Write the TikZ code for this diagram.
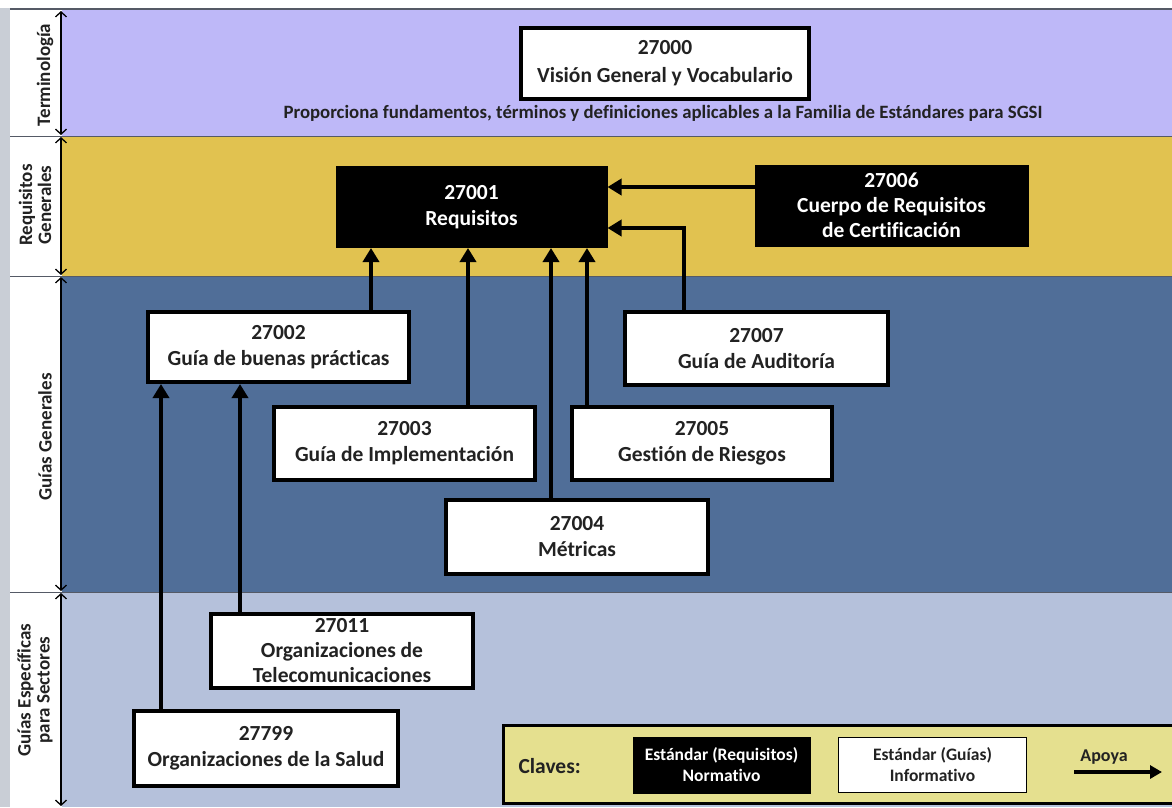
\documentclass[tikz,border=0pt]{standalone}
\usepackage{fontspec}
\setmainfont{Carlito}[Ligatures=NoCommon]
\usetikzlibrary{arrows.meta}
\definecolor{bandA}{HTML}{BEB8F8}
\definecolor{bandB}{HTML}{E1C250}
\definecolor{bandC}{HTML}{506E98}
\definecolor{bandD}{HTML}{B5C1DB}
\definecolor{keyfill}{HTML}{E5E08F}
\definecolor{stripgray}{HTML}{C9CED6}
\definecolor{txt}{HTML}{222222}
\definecolor{sepline}{HTML}{555A66}
\begin{document}
\begin{tikzpicture}[x=1pt,y=-1pt,
  guide/.style={draw=black, line width=4pt, fill=white, text=txt, align=center, inner sep=0pt,
    font=\bfseries\fontsize{21.5}{26}\selectfont},
  norm/.style={draw=black, line width=1pt, fill=black, text=white, align=center, inner sep=0pt,
    font=\bfseries\fontsize{21.5}{26}\selectfont},
  apoya/.style={line width=4pt, -{Triangle[length=14pt,width=16pt]}},
  bandlbl/.style={rotate=90, text=txt, align=center, font=\bfseries\fontsize{19}{19}\selectfont},
  bandarrow/.style={line width=1.3pt, {Straight Barb[length=5pt,width=11pt]}-{Straight Barb[length=5pt,width=11pt]}},
  keytxt/.style={text=txt, align=center, font=\bfseries\fontsize{17.5}{21}\selectfont}]
\useasboundingbox (0,0) rectangle (1172,807);
\fill[white] (0,0) rectangle (1172,807);
\fill[stripgray] (0,8) rectangle (10,807);
% bands
\fill[bandA] (62,10) rectangle (1172,136);
\fill[bandB] (62,136) rectangle (1172,276);
\fill[bandC] (62,276) rectangle (1172,592);
\fill[bandD] (62,592) rectangle (1172,807);
\draw[sepline, line width=1.2pt] (10,9) -- (1172,9);
\foreach \yy in {136,276,592} \draw[sepline, line width=1pt] (10,\yy) -- (1172,\yy);
% band label arrows
\coordinate (a1) at (61,11); \coordinate (a2) at (61,135);
\coordinate (b1) at (61,137); \coordinate (b2) at (61,275);
\coordinate (c1) at (61,277); \coordinate (c2) at (61,591);
\coordinate (d1) at (61,593); \coordinate (d2) at (61,806);
\draw[bandarrow] (a1) -- (a2);
\draw[bandarrow] (b1) -- (b2);
\draw[bandarrow] (c1) -- (c2);
\draw[bandarrow] (d1) -- (d2);
% band labels
\node[bandlbl] (lTerm) at (45,75) {Terminología};
\node[bandlbl] (lReq) at (35,205) {Requisitos\\Generales};
\node[bandlbl] (lGG) at (45,437) {Guías Generales};
\node[bandlbl] (lGE) at (35,690) {Guías Específicas\\para Sectores};
% top
\node[guide, minimum width=288pt, minimum height=71pt, font=\bfseries\fontsize{21.5}{28}\selectfont] (n27000) at (665,63.5) {27000\\Visión General y Vocabulario};
\node[text=txt, font=\bfseries\fontsize{18.8}{20}\selectfont] (cap) at (663,113) {Proporciona fundamentos, términos y definiciones aplicables a la Familia de Estándares para SGSI};
% requisitos
\node[norm, minimum width=271pt, minimum height=81pt] (n27001) at (471.5,207) {27001\\Requisitos};
\node[norm, minimum width=273pt, minimum height=81pt, font=\bfseries\fontsize{21.5}{25}\selectfont] (n27006) at (891.5,205.5) {27006\\Cuerpo de Requisitos\\de Certificación};
% guias generales
\node[guide, minimum width=261pt, minimum height=70pt] (n27002) at (278.5,347) {27002\\Guía de buenas prácticas};
\node[guide, minimum width=263pt, minimum height=73pt] (n27007) at (756.5,348.5) {27007\\Guía de Auditoría};
\node[guide, minimum width=261pt, minimum height=73pt] (n27003) at (404.5,443.5) {27003\\Guía de Implementación};
\node[guide, minimum width=260pt, minimum height=73pt] (n27005) at (702,443.5) {27005\\Gestión de Riesgos};
\node[guide, minimum width=262pt, minimum height=74pt] (n27004) at (577,537) {27004\\Métricas};
% guias especificas
\node[guide, minimum width=262pt, minimum height=74pt, font=\bfseries\fontsize{21.5}{25}\selectfont] (n27011) at (342,651) {27011\\Organizaciones de\\Telecomunicaciones};
\node[guide, minimum width=264pt, minimum height=75pt] (n27799) at (266,748.5) {27799\\Organizaciones de la Salud};
% connector helpers
\coordinate (x371) at (371,0);
\coordinate (x468) at (468,0);
\coordinate (x551) at (551,0);
\coordinate (x587) at (587,0);
\coordinate (x684) at (684,0);
\coordinate (x240) at (240,0);
\coordinate (x161) at (161,0);
\coordinate (y187) at (0,187);
\coordinate (y228) at (0,228);
% connectors
\draw[apoya] (n27006.west |- y187) -- (n27001.east |- y187);
\draw[apoya] (n27007.north -| x684) |- (n27001.east |- y228);
\draw[apoya] (n27002.north -| x371) -- (x371 |- n27001.south);
\draw[apoya] (n27003.north -| x468) -- (x468 |- n27001.south);
\draw[apoya] (n27004.north -| x551) -- (x551 |- n27001.south);
\draw[apoya] (n27005.north -| x587) -- (x587 |- n27001.south);
\draw[apoya] (n27011.north -| x240) -- (x240 |- n27002.south);
\draw[apoya] (n27799.north -| x161) -- (x161 |- n27002.south);
% legend
\draw[black, line width=3pt, fill=keyfill] (503,725) rectangle (1185,803);
\node[text=txt, font=\bfseries\fontsize{21.5}{24}\selectfont, anchor=west] (claves) at (515,766) {Claves:};
\node[norm, minimum width=177pt, minimum height=56pt, font=\bfseries\fontsize{17.5}{21}\selectfont] (kNorm) at (721.5,765) {Estándar (Requisitos)\\Normativo};
\node[draw=black, line width=1.5pt, fill=white, minimum width=188pt, minimum height=55pt, inner sep=0pt, keytxt] (kInf) at (932.5,765) {Estándar (Guías)\\Informativo};
\node[text=txt, font=\bfseries\fontsize{18}{20}\selectfont] (kApoya) at (1104,757) {Apoya};
\coordinate (kA1) at (1074,772);
\coordinate (kA2) at (1162,772);
\draw[line width=3.5pt, -{Triangle[length=12pt,width=13pt]}] (kA1) -- (kA2);
\end{tikzpicture}
\end{document}
